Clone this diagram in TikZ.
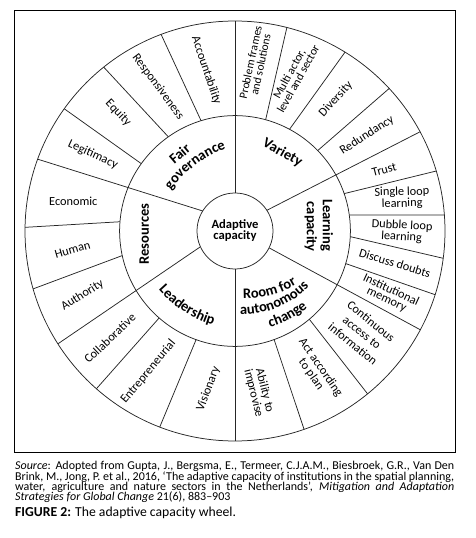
\documentclass[tikz,border=0pt]{standalone}
\usepackage{fontspec}
\setmainfont{Carlito}
\usetikzlibrary{decorations.text}
\newcommand{\outfont}{\fontsize{12.3}{10.4}\selectfont}
\newcommand{\midfont}{\fontsize{14.5}{16}\selectfont\bfseries}
\newcommand{\cenfont}{\fontsize{12.6}{11}\selectfont\bfseries}
\newcommand{\capfont}{\fontsize{12}{10.35}\selectfont}
\newcommand{\figfont}{\fontsize{13.7}{14}\selectfont}
\begin{document}
\begin{tikzpicture}[x=1pt,y=1pt,
  wl/.style={line width=0.75pt, draw=black!85},
  frameline/.style={line width=1pt, draw=black},
  ot/.style={font=\outfont, inner sep=0pt, align=center},
  mt/.style={font=\midfont, inner sep=0pt, align=center},
  captext/.style={font=\capfont, inner sep=0pt, anchor=base west},
  arctext/.style={decorate, decoration={text along path, text align=center, text={|\midfont|#1}}}
]
\useasboundingbox (-235,-307) rectangle (240,231);
\draw[frameline] (-220.7,220.7) rectangle (220,-221.5);
% circles
\draw[wl] (0,0) circle (38);
\draw[wl] (0,0) circle (115.4);
\draw[wl] (0,0) circle (210);
% dividers
\draw[wl] (90:38) -- (90:210);
\draw[wl] (107.1:115.4) -- (110.6:210);
\draw[wl] (125.3:115.4) -- (128.7:210);
\draw[wl] (144.3:115.4) -- (144.4:210);
\draw[wl] (148.2:38) -- (160.0:210);
\draw[wl] (175.4:115.4) -- (179.0:210);
\draw[wl] (192.3:115.4) -- (196.0:210);
\draw[wl] (204.5:38) -- (212.5:210);
\draw[wl] (228.9:115.4) -- (228.7:210);
\draw[wl] (250.3:115.4) -- (249.0:210);
\draw[wl] (270:38) -- (270:210);
\draw[wl] (289.8:115.4) -- (289.2:210);
\draw[wl] (310.1:115.4) -- (309.15:210);
\draw[wl] (-26.3:38) -- (-28.06:210);
\draw[wl] (-16.4:115.4) -- (-17.66:210);
\draw[wl] (-2.8:115.4) -- (-7.47:210);
\draw[wl] (8.0:115.4) -- (4.4:210);
\draw[wl] (18.9:115.4) -- (16.6:210);
\draw[wl] (33.0:38) -- (28.2:210);
\draw[wl] (44.2:115.4) -- (42.75:210);
\draw[wl] (61.8:115.4) -- (58.4:210);
\draw[wl] (74.6:115.4) -- (75.7:210);
% centre
\node[font=\cenfont, inner sep=0pt, align=center] (ac) at (0,0) {Adaptive\\capacity};
% outer ring
\node[ot, rotate=-71.3] (acc) at (-28.7,160.5) {Accountability};
\node[ot, rotate=-53.5] (resp) at (-77,144.3) {Responsiveness};
\node[ot, rotate=-46.5] (eq) at (-116.7,118) {Equity};
\node[ot, rotate=-24.5] (leg) at (-142,76.3) {Legitimacy};
\node[ot] (eco) at (-161.7,29.5) {Economic};
\node[ot, rotate=16] (hum) at (-162.5,-18.5) {Human};
\node[ot, rotate=32.4] (auth) at (-152.5,-64.3) {Authority};
\node[ot, rotate=43.5] (coll) at (-125.3,-107.3) {Collaborative};
\node[ot, rotate=50] (entr) at (-86.7,-140.7) {Entrepreneurial};
\node[ot, rotate=69.3] (vis) at (-26.7,-157.8) {Visionary};
\node[ot, rotate=-76] (abil) at (24,-161) {Ability to\\improvise};
\node[ot, rotate=-55] (act) at (80.8,-140) {Act according\\to plan};
\node[ot, rotate=-39, font=\fontsize{12.3}{14.5}\selectfont] (cont) at (127,-101.5) {Continuous\\access to\\information};
\node[ot, rotate=-24.8] (inst) at (153.8,-64) {Institutional\\memory};
\node[ot, rotate=-17.2] (disc) at (160,-32.3) {Discuss doubts};
\node[ot, rotate=-3] (dub) at (166.8,-0.5) {Dubble loop\\learning};
\node[ot, rotate=1.5] (sing) at (167,33) {Single loop\\learning};
\node[ot, rotate=14.8] (trust) at (149.2,61) {Trust};
\node[ot, rotate=32.9] (red) at (132,95.7) {Redundancy};
\node[ot, rotate=47.8] (div) at (100.8,131.8) {Diversity};
\node[ot, rotate=61, font=\fontsize{11.8}{10.4}\selectfont] (multi) at (58.6,154.6) {Multi actor,\\level and sector};
\node[ot, rotate=78, font=\fontsize{11.5}{10.3}\selectfont] (prob) at (20.5,167.5) {Problem frames\\and solutions};
% middle ring
\node[mt, rotate=40] (fair) at (-55.5,77.2) {Fair};
\begin{scope}[shift={(-42,69)}, rotate=37]
  \path[arctext=governance] (-60,-20.08) arc[start angle=120, end angle=60, radius=120];
\end{scope}
\node[mt, rotate=-29] (var) at (47.5,78.2) {Variety};
\node[mt, rotate=-90] (learn) at (91.7,6) {Learning};
\node[mt, rotate=-90] (capl) at (75.7,4.3) {capacity};
\node[mt, rotate=90] (res) at (-90.7,-3.2) {Resources};
\begin{scope}[shift={(-49.5,-77)}, rotate=-32.6]
  \path[arctext=Leadership] (-57.5,11.41) arc[start angle=240, end angle=300, radius=115];
\end{scope}
\begin{scope}[shift={(35,-60.5)}, rotate=15]
  \path[arctext=Room for] (-50,9.4) arc[start angle=240, end angle=300, radius=100];
\end{scope}
\begin{scope}[shift={(41,-73)}, rotate=22]
  \path[arctext=autonomous] (-54.49,13.18) arc[start angle=235, end angle=305, radius=95];
\end{scope}
\begin{scope}[shift={(53,-85)}, rotate=28]
  \path[arctext=change] (-47.5,8.73) arc[start angle=240, end angle=300, radius=95];
\end{scope}
% caption
\node[captext] (c1) at (-220,-238.3) {\makebox[439pt][s]{\textit{Source}: Adopted from Gupta, J., Bergsma, E., Termeer, C.J.A.M., Biesbroek, G.R., Van Den}};
\node[captext] (c2) at (-220,-249) {\makebox[439pt][s]{Brink, M., Jong, P. et al., 2016, ‘The adaptive capacity of institutions in the spatial planning,}};
\node[captext] (c3) at (-220,-259.3) {\makebox[439pt][s]{water, agriculture and nature sectors in the Netherlands’, \textit{Mitigation and Adaptation}}};
\node[captext] (c4) at (-220,-269.3) {\textit{Strategies for Global Change} 21(6), 883–903};
\node[font=\figfont, inner sep=0pt, anchor=base west] (fig) at (-220,-285) {\textbf{FIGURE 2:} The adaptive capacity wheel.};
\end{tikzpicture}
\end{document}
